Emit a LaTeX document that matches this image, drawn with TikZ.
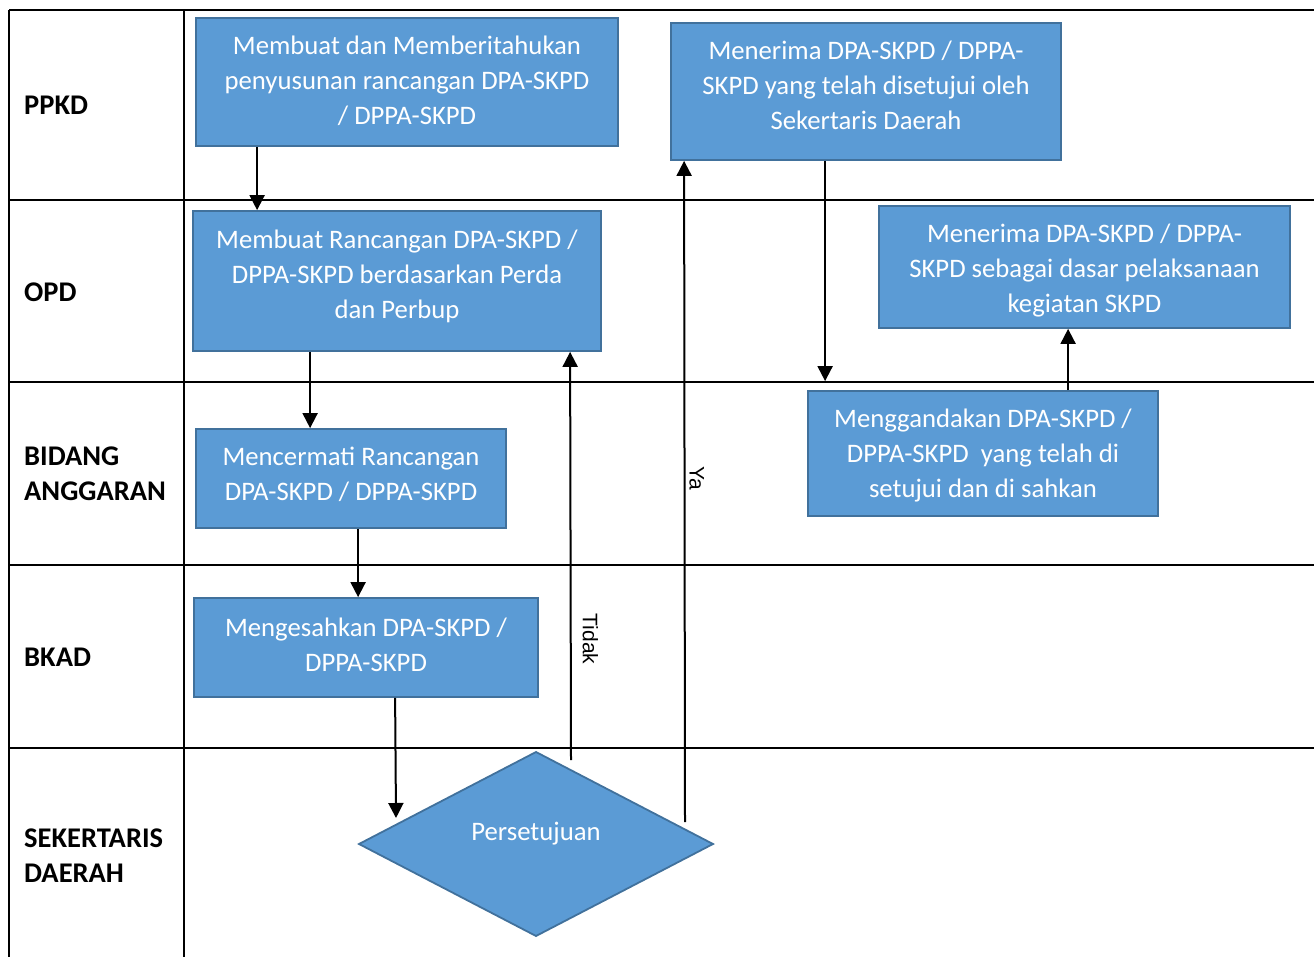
\documentclass[tikz,border=0pt]{standalone}
\usepackage{fontspec}
\setmainfont{Carlito}
\newfontfamily\labelfont{Liberation Sans}
\usetikzlibrary{arrows.meta,shapes.geometric,calc}
\definecolor{boxfill}{HTML}{5B9BD5}
\definecolor{boxline}{HTML}{41719C}

\begin{document}
\begin{tikzpicture}[x=1pt,y=-1pt,
  grid/.style={line width=2.5pt},
  stepbox/.style={draw=boxline, fill=boxfill, line width=1.8pt, inner sep=0pt},
  boxtext/.style={text=white, align=center, inner sep=0pt,
    font=\fontsize{26.7}{35}\selectfont},
  lane/.style={anchor=west, align=left, inner sep=0pt,
    font=\fontsize{28.5}{35}\selectfont\bfseries},
  arr/.style={line width=2pt, -{Triangle[width=15pt,length=15pt]}},
  edgelabel/.style={font=\labelfont\fontsize{21}{24}\selectfont,
    rotate=-90, anchor=south, inner sep=0pt}
]
\useasboundingbox (0,0) rectangle (1314,957);

% swimlane grid
\foreach \yy in {10,200,382,565,748}
  \draw[grid] (9,\yy) -- (1314,\yy);
\draw[grid] (9,10) -- (9,957);
\draw[grid] (184,10) -- (184,957);

% lane titles
\node[lane] (ppkd) at (24,105) {PPKD};
\node[lane] (opd)  at (24,292) {OPD};
\node[lane] (bid)  at (24,474) {BIDANG\\ANGGARAN};
\node[lane] (bkad) at (24,657) {BKAD};
\node[lane] (sekda) at (24,856) {SEKERTARIS\\DAERAH};

% process steps (text set as a centred label, shifted where needed)
\node[stepbox, minimum width=422pt, minimum height=128pt,
  label={[boxtext, yshift=1pt]center:{Membuat dan Memberitahukan\\penyusunan rancangan DPA-SKPD\\/ DPPA-SKPD}}]
  (A) at (407,82) {};
\node[stepbox, minimum width=390pt, minimum height=137pt,
  label={[boxtext, yshift=6pt]center:{Menerima DPA-SKPD / DPPA-\\SKPD yang telah disetujui oleh\\Sekertaris Daerah}}]
  (B) at (866,91.5) {};
\node[stepbox, minimum width=408pt, minimum height=140pt,
  label={[boxtext, yshift=5pt]center:{Membuat Rancangan DPA-SKPD /\\DPPA-SKPD berdasarkan Perda\\dan Perbup}}]
  (C) at (397,281) {};
\node[stepbox, minimum width=411pt, minimum height=122pt,
  label={[boxtext, yshift=-4pt]center:{Menerima DPA-SKPD / DPPA-\\SKPD sebagai dasar pelaksanaan\\kegiatan SKPD}}]
  (D) at (1084.5,267) {};
\node[stepbox, minimum width=310pt, minimum height=99pt,
  label={[boxtext, yshift=4pt]center:{Mencermati Rancangan\\DPA-SKPD / DPPA-SKPD}}]
  (E) at (351,478.5) {};
\node[stepbox, minimum width=350pt, minimum height=125pt,
  label={[boxtext, yshift=-2pt]center:{Menggandakan DPA-SKPD /\\DPPA-SKPD\ \ yang telah di\\setujui dan di sahkan}}]
  (F) at (983,453.5) {};
\node[stepbox, minimum width=344pt, minimum height=99pt,
  label={[boxtext, yshift=3pt]center:{Mengesahkan DPA-SKPD /\\DPPA-SKPD}}]
  (G) at (366,647.5) {};
\node[stepbox, diamond, shape aspect=1.924, minimum width=354pt,
  minimum height=184pt, outer sep=0pt,
  label={[boxtext, yshift=10pt]center:Persetujuan}]
  (P) at (536,844) {};

% flow
\draw[arr] ($(A.south west)+(62,0)$) -- ($(C.north west)+(65,0)$);
\draw[arr] ($(C.south west)+(118,0)$) -- ($(E.north west)+(115,0)$);
\draw[arr] ($(E.south west)+(163,0)$) -- ($(G.north west)+(165,0)$);
\draw[arr] ($(G.south west)+(202,0)$) -- ($(P.north)+(-140,66)$);
\draw[arr] ($(P.north)+(35,8)$) --
  node[edgelabel, pos=0.296, outer sep=12pt] {Tidak} ($(C.south west)+(378,0)$);
\draw[arr] ($(P.north)+(149,70)$) --
  node[edgelabel, pos=0.52, outer sep=5pt] {Ya} ($(B.south west)+(14,0)$);
\draw[arr] ($(B.south west)+(155,0)$) -- ($(F.north west)+(18,-9)$);
\draw[arr] ($(F.north west)+(261,0)$) -- ($(D.south west)+(190,0)$);
\end{tikzpicture}
\end{document}
